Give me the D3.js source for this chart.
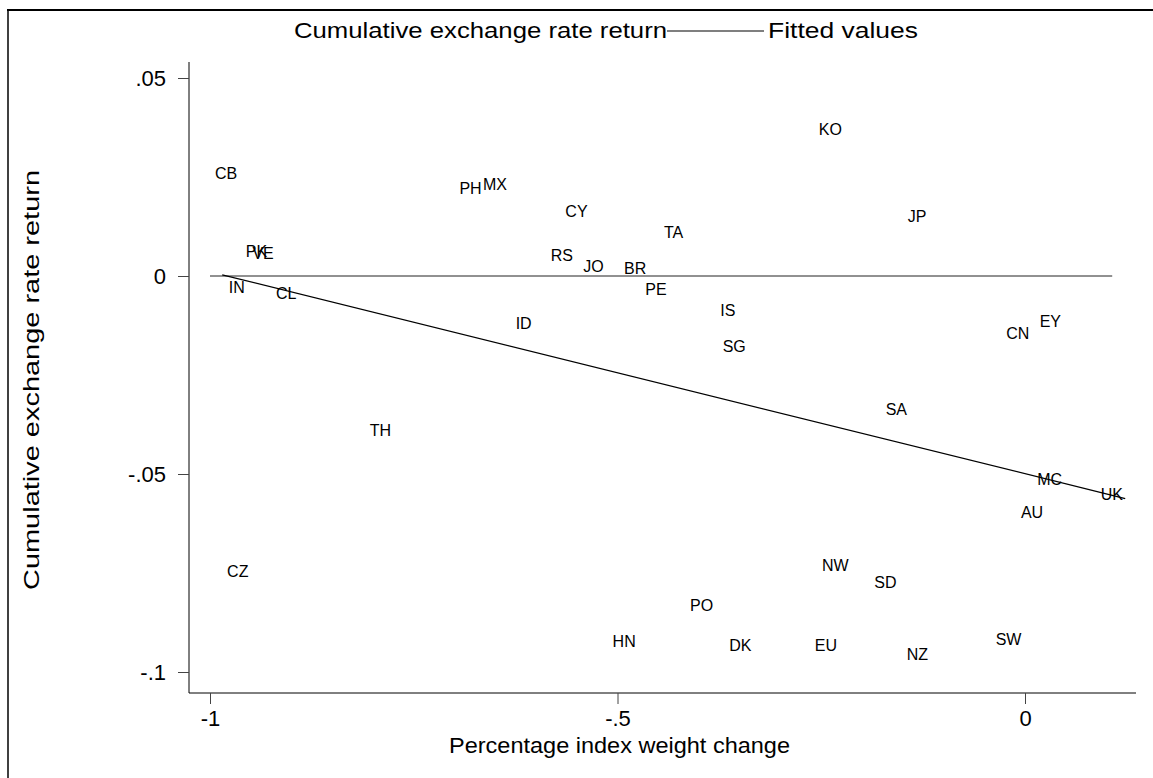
<!DOCTYPE html>
<html>
<head>
<meta charset="utf-8">
<script src="https://cdn.jsdelivr.net/npm/d3@7"></script>
<style>
  body { margin: 0; background: #fff; }
  svg { font-family: Arial, "Liberation Sans", sans-serif; }
</style>
</head>
<body>
<svg id="chart"></svg>
<script>
// country codes, weight change (x) and cumulative return (y)
const codes = ["CB", "PK", "VE", "IN", "CL", "CZ", "TH", "PH", "MX", "CY", "RS", "JO", "ID", "BR",
  "PE", "TA", "HN", "PO", "DK", "IS", "SG", "KO", "JP", "NW", "SD", "EU", "NZ", "SA", "CN",
  "EY", "MC", "AU", "UK", "SW"];
const weightChange = [-0.994, -0.956, -0.948, -0.977, -0.919, -0.979, -0.804, -0.694, -0.665, -0.564,
  -0.582, -0.542, -0.625, -0.492, -0.466, -0.443, -0.506, -0.411, -0.363, -0.374, -0.371, -0.253,
  -0.144, -0.249, -0.185, -0.258, -0.145, -0.171, -0.023, 0.018, 0.015, -0.005, 0.093, -0.036];
const cumReturn = [0.0258, 0.0061, 0.0056, -0.0028, -0.0043, -0.0745, -0.0391, 0.0222, 0.0232, 0.0162,
  0.0051, 0.0023, -0.0121, 0.0018, -0.0035, 0.0111, -0.0924, -0.0831, -0.0932, -0.0086, -0.0179,
  0.0371, 0.0149, -0.0732, -0.0773, -0.0934, -0.0957, -0.0336, -0.0146, -0.0114, -0.0515, -0.0596,
  -0.0553, -0.0917];

// fitted values line end points and the zero reference line
const fittedX = [-0.985, 0.123];
const fittedY = [0.0003, -0.0562];
const zeroX = [-1, 0.107];

const xTicks = [-1, -0.5, 0];
const yTicks = [0.05, 0, -0.05, -0.1];
const fmt = (v) => v === 0 ? "0" : String(v).replace("0.", ".");

const width = 1153, height = 778;
const plotLeft = 189, plotRight = 1136, plotTop = 62, plotBottom = 693;

const svg = d3.select("#chart").attr("width", width).attr("height", height);

// outer frame lines (top and left only, as in the picture)
svg.append("line").attr("x1", 7).attr("x2", width).attr("y1", 10).attr("y2", 10)
  .attr("stroke", "#000").attr("stroke-width", 2);
svg.append("line").attr("x1", 8).attr("x2", 8).attr("y1", 10).attr("y2", height)
  .attr("stroke", "#000").attr("stroke-width", 1.5);

const xScale = d3.scaleLinear()
  .domain([(plotLeft - 1025) / 815, (plotRight - 1025) / 815])
  .range([plotLeft, plotRight]);
const yScale = d3.scaleLinear()
  .domain([-0.1 - (plotBottom - 672) / 3960, 0.05 + (78 - plotTop) / 3960])
  .range([plotBottom, plotTop]);

const xAxis = d3.axisBottom(xScale).tickValues(xTicks).tickFormat(fmt).tickSize(11).tickPadding(6);
const yAxis = d3.axisLeft(yScale).tickValues(yTicks).tickFormat(fmt).tickSize(11).tickPadding(12);

svg.append("g")
  .attr("transform", `translate(0,${plotBottom})`)
  .call(xAxis)
  .call((g) => g.select(".domain").attr("d", `M${plotLeft},0H${plotRight}`))
  .call((g) => g.selectAll("line").attr("stroke", "#444"))
  .call((g) => g.selectAll("text").attr("font-size", 22).attr("fill", "#000")
    .attr("font-family", "Arial, 'Liberation Sans', sans-serif"));

svg.append("g")
  .attr("transform", `translate(${plotLeft},0)`)
  .call(yAxis)
  .call((g) => g.select(".domain").attr("d", `M0,${plotTop}V${plotBottom}`))
  .call((g) => g.selectAll("line").attr("stroke", "#444"))
  .call((g) => g.selectAll("text").attr("font-size", 22).attr("fill", "#000")
    .attr("font-family", "Arial, 'Liberation Sans', sans-serif"));

// axis titles (the original font runs wider, so stretch to its length)
svg.append("text")
  .attr("x", 449).attr("y", 753)
  .attr("font-size", 22)
  .attr("textLength", 341).attr("lengthAdjust", "spacingAndGlyphs")
  .text("Percentage index weight change");
svg.append("text")
  .attr("transform", "translate(39,590) rotate(-90)")
  .attr("font-size", 22)
  .attr("textLength", 420).attr("lengthAdjust", "spacingAndGlyphs")
  .text("Cumulative exchange rate return");

// zero line
svg.append("line")
  .attr("x1", xScale(zeroX[0])).attr("x2", xScale(zeroX[1]))
  .attr("y1", yScale(0)).attr("y2", yScale(0))
  .attr("stroke", "#222").attr("stroke-width", 1);

// fitted values
svg.append("path")
  .datum(d3.zip(fittedX, fittedY))
  .attr("d", d3.line().x((d) => xScale(d[0])).y((d) => yScale(d[1])))
  .attr("fill", "none").attr("stroke", "#000").attr("stroke-width", 1.2);

// country labels as markers
svg.append("g")
  .selectAll("text")
  .data(codes)
  .join("text")
  .attr("x", (d, i) => xScale(weightChange[i]))
  .attr("y", (d, i) => yScale(cumReturn[i]))
  .attr("dominant-baseline", "central")
  .attr("font-size", 16)
  .text((d) => d);

// legend
const legend = svg.append("g").attr("font-size", 22);
legend.append("text").attr("x", 294).attr("y", 38)
  .attr("textLength", 373).attr("lengthAdjust", "spacingAndGlyphs")
  .text("Cumulative exchange rate return");
legend.append("line").attr("x1", 667).attr("x2", 764).attr("y1", 31).attr("y2", 31)
  .attr("stroke", "#000").attr("stroke-width", 1.2);
legend.append("text").attr("x", 768).attr("y", 38)
  .attr("textLength", 150).attr("lengthAdjust", "spacingAndGlyphs")
  .text("Fitted values");
</script>
</body>
</html>
